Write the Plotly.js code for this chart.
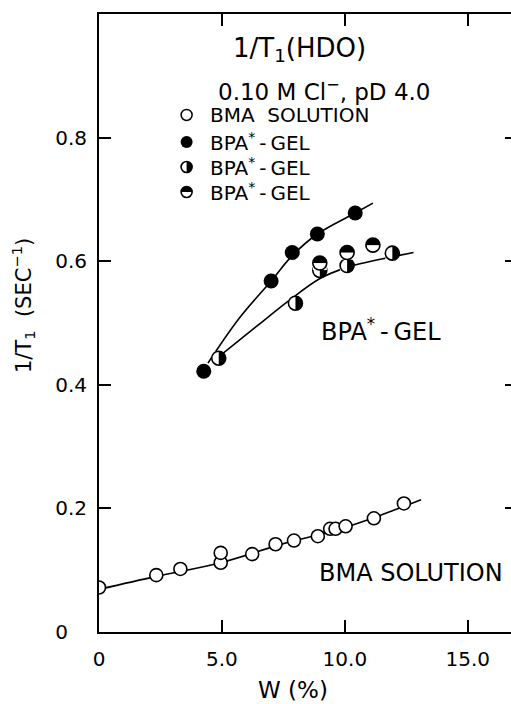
<!DOCTYPE html>
<html>
<head>
<meta charset="utf-8">
<script src="https://cdn.plot.ly/plotly-3.0.1.min.js"></script>
<style>
html, body { margin: 0; padding: 0; overflow: hidden; background: #fff; }
#chart { width: 530px; height: 704px; }
</style>
</head>
<body>
<div id="chart"></div>
<script>
// ---- data ----
const bmaW = [0, 2.33, 3.31, 4.95, 4.95, 6.23, 7.18, 7.93, 8.9, 9.4, 9.62, 10.03, 11.18, 12.4];
const bmaR = [0.072, 0.092, 0.102, 0.112, 0.128, 0.126, 0.142, 0.148, 0.155, 0.167, 0.167, 0.171, 0.184, 0.208];
const bmaFitW = [0, 2.33, 4.95, 7.5, 10.0, 13.1];
const bmaFitR = [0.069, 0.090, 0.112, 0.143, 0.169, 0.214];

const gelFilledW = [4.26, 7.0, 7.86, 8.88, 10.42];
const gelFilledR = [0.422, 0.568, 0.614, 0.644, 0.678];
const gelFilledFitW = [4.43, 5.71, 7.0, 7.86, 8.88, 10.42, 11.14];
const gelFilledFitR = [0.435, 0.508, 0.568, 0.609, 0.644, 0.678, 0.694];

const gelRightW = [4.87, 7.99, 8.98, 10.09, 11.93];
const gelRightR = [0.443, 0.532, 0.585, 0.593, 0.613];
const gelTopW = [8.98, 10.09, 11.14];
const gelTopR = [0.597, 0.614, 0.626];
const gelHalfFitW = [4.7, 6.39, 7.75, 8.99, 10.09, 11.92, 12.79];
const gelHalfFitR = [0.44, 0.494, 0.537, 0.572, 0.590, 0.607, 0.614];

const xTickVals = [0, 5, 10, 15];
const xTickText = ['0', '5.0', '10.0', '15.0'];
const yTickVals = [0, 0.2, 0.4, 0.6, 0.8];
const yTickText = ['0\u00a0\u00a0\u00a0', '0.2', '0.4', '0.6', '0.8'];

const legendLabels = ['BMA\u00a0\u00a0SOLUTION', 'BPA<sup>*</sup>\u2009-\u2009GEL', 'BPA<sup>*</sup>\u2009-\u2009GEL', 'BPA<sup>*</sup>\u2009-\u2009GEL'];

// ---- styling / layout ----
const F = 'DejaVu Sans, Verdana, sans-serif';
const D = 14;      // data marker diameter (px)
const DL = 11;     // legend marker diameter (px)

// legend rows in plot-fraction coordinates (axis x2/y2 span 0..1)
const legX = 0.2096, legTextX = 0.2597;
const legY = [0.8366, 0.7929, 0.7524, 0.712];

// half-filled circle built from layered markers:
// black disk, a white thick bar covering the empty half, black outline on top.
// angle 90 -> white half on the left (right half black); angle 0 -> white half at the bottom (upper half black)
function halfCircle(xs, ys, angle, d, axes) {
  const base = Object.assign({x: xs, y: ys, mode: 'markers', hoverinfo: 'skip'}, axes || {});
  return [
    Object.assign({}, base, {marker: {symbol: 'circle', size: d, color: '#000', line: {width: 0}}}),
    Object.assign({}, base, {marker: {symbol: 'line-ew', size: d / 1.4, color: '#fff', line: {color: '#fff', width: d / 2}, angle: angle, standoff: d / 4}}),
    Object.assign({}, base, {marker: {symbol: 'circle-open', size: d, color: '#000', line: {color: '#000', width: 1.6}}})
  ];
}

const L2 = {xaxis: 'x2', yaxis: 'y2'};

const traces = [
  {x: bmaFitW, y: bmaFitR, mode: 'lines', line: {color: '#000', width: 1.6, shape: 'spline'}, hoverinfo: 'skip'},
  {x: gelFilledFitW, y: gelFilledFitR, mode: 'lines', line: {color: '#000', width: 1.6, shape: 'spline'}, hoverinfo: 'skip'},
  {x: gelHalfFitW, y: gelHalfFitR, mode: 'lines', line: {color: '#000', width: 1.6, shape: 'spline'}, hoverinfo: 'skip'},
  {x: bmaW, y: bmaR, mode: 'markers', marker: {symbol: 'circle', size: 13, color: '#fff', line: {color: '#000', width: 1.6}}},
  {x: gelFilledW, y: gelFilledR, mode: 'markers', marker: {symbol: 'circle', size: 15, color: '#000', line: {color: '#000', width: 0}}}
]
.concat(halfCircle(gelRightW, gelRightR, 90, D))
.concat(halfCircle(gelTopW, gelTopR, 0, D))
.concat([
  {x: [legX], y: [legY[0]], mode: 'markers', marker: {symbol: 'circle', size: DL, color: '#fff', line: {color: '#000', width: 1.5}}, xaxis: 'x2', yaxis: 'y2'},
  {x: [legX], y: [legY[1]], mode: 'markers', marker: {symbol: 'circle', size: DL + 1, color: '#000', line: {width: 0}}, xaxis: 'x2', yaxis: 'y2'}
])
.concat(halfCircle([legX], [legY[2]], 90, DL, L2))
.concat(halfCircle([legX], [legY[3]], 0, DL, L2));

const annotations = [
  {xref: 'x', yref: 'y', x: 8.15, y: 0.943, xanchor: 'center', text: '1/T<sub>1</sub>(HDO)', showarrow: false, font: {family: F, size: 26, color: '#000'}},
  {xref: 'x', yref: 'y', x: 9.17, y: 0.877, xanchor: 'center', text: '0.10 M Cl<sup>\u2212</sup>, pD 4.0', showarrow: false, font: {family: F, size: 23, color: '#000'}},
  {xref: 'x', yref: 'y', x: 11.48, y: 0.489, xanchor: 'center', text: 'BPA<sup>*</sup>\u2009-\u2009GEL', showarrow: false, font: {family: F, size: 24, color: '#000'}},
  {xref: 'x', yref: 'y', x: 12.67, y: 0.0955, xanchor: 'center', text: 'BMA SOLUTION', showarrow: false, font: {family: F, size: 24, color: '#000'}},
  {xref: 'paper', yref: 'paper', x: 0.4636, y: -0.094, xanchor: 'center', yanchor: 'middle', text: 'W\u00a0(%)', showarrow: false, font: {family: F, size: 23, color: '#000'}},
  {xref: 'paper', yref: 'paper', x: -0.1816, y: 0.5275, xanchor: 'center', yanchor: 'middle', textangle: -90, text: '1/T<sub>1</sub>\u00a0\u00a0(SEC<sup>\u22121</sup>)', showarrow: false, font: {family: F, size: 21, color: '#000'}}
].concat(legendLabels.map((t, i) => ({
  xref: 'x2', yref: 'y2', x: legTextX, y: legY[i], xanchor: 'left', yanchor: 'middle', text: t, showarrow: false,
  font: {family: F, size: 20, color: '#000'}
})));

const axisCommon = {
  showgrid: false, zeroline: false, showline: true, linecolor: '#000', linewidth: 2,
  ticks: 'inside', ticklen: 12, tickwidth: 2, tickcolor: '#000', mirror: 'ticks',
  tickfont: {family: F, size: 20, color: '#000'}, fixedrange: true
};

const layout = {
  width: 530, height: 704,
  margin: {l: 99, r: 12.5, t: 14, b: 72},
  paper_bgcolor: '#fff', plot_bgcolor: '#fff',
  showlegend: false,
  xaxis: Object.assign({}, axisCommon, {range: [0, 17], tickvals: xTickVals, ticktext: xTickText, ticklabelstandoff: 8}),
  yaxis: Object.assign({}, axisCommon, {range: [0, 1], tickvals: yTickVals, ticktext: yTickText, ticklabelstandoff: 6}),
  xaxis2: {overlaying: 'x', range: [0, 1], visible: false, fixedrange: true},
  yaxis2: {overlaying: 'y', range: [0, 1], visible: false, fixedrange: true},
  annotations: annotations
};

Plotly.newPlot('chart', traces, layout, {staticPlot: true, displayModeBar: false});
</script>
</body>
</html>
